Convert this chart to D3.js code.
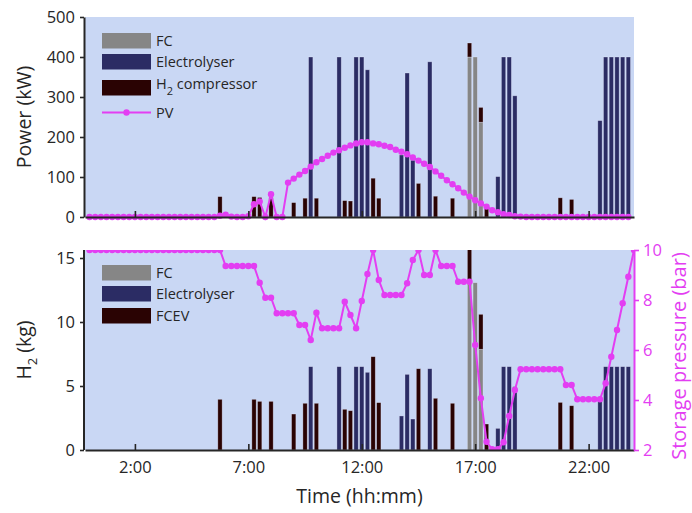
<!DOCTYPE html>
<html>
<head>
<meta charset="utf-8">
<script src="https://cdn.jsdelivr.net/npm/d3@7"></script>
<style>
  body { margin: 0; background: #ffffff; }
  svg { display: block; font-family: "Open Sans", "DejaVu Sans", sans-serif; }
</style>
</head>
<body>
<svg id="chart" width="692" height="513"></svg>
<script>
// ---- Data: 15-minute resolution over one day ----

// PV output (kW), 0:00 .. 23:45
const pvPower = [
  0,0,0,0,0,0,0,0,0,0,0,0,0,0,0,0,0,0,0,0,0,0,0,   // 0:00 - 5:30
  3,6,1,0,0,2,32,39,0,57,0,0,                      // 5:45 - 8:30
  86,96,106,115,126,137,145,153,161,167,173,179,   // 8:45 - 11:30
  184,187,187,184,182,178,175,168,163,157,149,141, // 11:45 - 14:30
  133,125,114,103,92,82,72,61,51,42,34,26,         // 14:45 - 17:30
  17,12,7,5,2,1,                                   // 17:45 - 19:00
  0,0,0,0,0,0,0,0,0,0,0,0,0,0,0,0,0,0,0            // 19:15 - 23:45
];

// Hydrogen storage pressure (bar), 0:00 .. 24:00
const storagePressure = [
  10,10,10,10,10,10,10,10,10,10,10,10,10,10,10,10,10,10,10,10,10,10,10,10, // 0:00 - 5:45
  9.36,9.36,9.36,9.36,9.36,9.36,                   // 6:00 - 7:15
  8.69,8.09,8.09,7.47,7.47,7.47,7.47,7.0,7.0,6.4,   // 7:30 - 9:45
  7.49,6.87,6.87,6.87,6.87,7.93,7.4,6.87,7.96,9.04, // 10:00 - 12:15
  10,8.8,8.2,8.2,8.2,8.2,8.67,9.6,10,9.0,9.0,10,    // 12:30 - 15:15
  9.36,9.36,9.36,8.73,8.73,8.73,                   // 15:30 - 16:45
  6.2,4.07,2.33,2.03,2.03,2.31,3.36,4.4,5.23,      // 17:00 - 19:00
  5.23,5.23,5.23,5.23,5.23,5.23,5.23,              // 19:15 - 20:45
  4.6,4.6,4.03,4.03,4.03,4.03,4.03,                // 21:00 - 22:30
  4.67,5.73,6.8,7.87,8.93,10                       // 22:45 - 24:00
];

// Power bars (kW) per time slot
const fcPower = [["16:45",400],["17:00",400],["17:15",237]];
const electrolyserPower = [
  ["9:45",400],["11:00",400],["11:45",400],["12:00",400],["12:15",368],
  ["13:45",155],["14:00",360],["14:15",142],["15:00",388],
  ["18:00",101],["18:15",400],["18:30",400],["18:45",303],
  ["22:30",241],["22:45",400],["23:00",400],["23:15",400],["23:30",400],["23:45",400]
];
const compressorPower = [
  ["5:45",51],["7:15",51],["7:30",49],["8:00",49],["9:00",36],["9:30",47],["10:00",47],
  ["11:15",41],["11:30",40],["12:30",97],["12:45",47],["14:30",84],["15:15",52],
  ["16:00",47],["16:45",35],["17:15",37],["17:30",26],["20:45",48],["21:15",44]
];

// Hydrogen bars (kg) per time slot
const fcHydrogen = [["16:45",13.1],["17:00",13.07],["17:15",7.87]];
const electrolyserHydrogen = [
  ["9:45",6.51],["11:00",6.51],["11:45",6.51],["12:00",6.51],["12:15",6.07],
  ["13:45",2.66],["14:00",5.91],["14:15",2.42],["15:00",6.35],
  ["18:00",1.69],["18:15",6.51],["18:30",6.51],["18:45",4.95],
  ["22:30",3.92],["22:45",6.51],["23:00",6.51],["23:15",6.51],["23:30",6.51],["23:45",6.51]
];
const fcevHydrogen = [
  ["5:45",3.96],["7:15",3.96],["7:30",3.8],["8:00",3.8],["9:00",2.81],["9:30",3.65],["10:00",3.65],
  ["11:15",3.18],["11:30",3.07],["12:30",7.29],["12:45",3.7],["14:30",6.35],["15:15",4.04],
  ["16:00",3.65],["16:45",2.8],["17:15",2.73],["17:30",2.03],["20:45",3.72],["21:15",3.46]
];

// Axis ticks
const hourTicks = [2, 7, 12, 17, 22];
const powerTicks = [0, 100, 200, 300, 400, 500];
const massTicks = [0, 5, 10, 15];
const pressureTicks = [2, 4, 6, 8, 10];

// ---- Styles ----
const C = {
  bg: "#c9d7f4",
  fc: "#868686",
  elec: "#2b2c64",
  dark: "#2a0303",
  pink: "#e33ef2",
  axis: "#262626",
  edge: "rgba(235,238,255,0.45)"
};

const svg = d3.select("#chart");
const toHours = s => { const [h, m] = s.split(":").map(Number); return h + m / 60; };

// Shared time scale
const x = d3.scaleLinear().domain([-0.2, 24]).range([85, 634]);
const barW = 4.3;

const panelTop = { y0: 17, y1: 217 };
const panelBot = { y0: 250, y1: 450 };

const yPow = d3.scaleLinear().domain([0, 500]).range([panelTop.y1, panelTop.y0]);
const yMass = d3.scaleLinear().domain([0, 15.625]).range([panelBot.y1, panelBot.y0]);
const yPres = d3.scaleLinear().domain([2, 10]).range([panelBot.y1, panelBot.y0]);

// Plot backgrounds
[panelTop, panelBot].forEach(p => {
  svg.append("rect").attr("x", x.range()[0]).attr("y", p.y0)
    .attr("width", x.range()[1] - x.range()[0]).attr("height", p.y1 - p.y0).attr("fill", C.bg);
});

svg.append("clipPath").attr("id", "clipBot").append("rect")
  .attr("x", x.range()[0]).attr("y", panelBot.y0)
  .attr("width", x.range()[1] - x.range()[0]).attr("height", panelBot.y1 - panelBot.y0);

// Stack FC, electrolyser and the dark series per time slot
function stackRows(fc, el, dk) {
  const m = new Map();
  const add = (list, key) => list.forEach(([t, v]) => {
    const h = toHours(t);
    if (!m.has(h)) m.set(h, { t: h, fc: 0, elec: 0, dark: 0 });
    m.get(h)[key] = v;
  });
  add(fc, "fc"); add(el, "elec"); add(dk, "dark");
  const rows = Array.from(m.values()).sort((a, b) => a.t - b.t);
  return d3.stack().keys(["fc", "elec", "dark"])(rows);
}

function drawBars(g, layers, y) {
  layers.forEach(layer => {
    g.selectAll(null).data(layer.filter(d => d[1] > d[0])).enter().append("rect")
      .attr("x", d => x(d.data.t) - barW / 2)
      .attr("width", barW)
      .attr("y", d => y(d[1]))
      .attr("height", d => y(d[0]) - y(d[1]))
      .attr("fill", C[layer.key])
      .attr("stroke", C.edge)
      .attr("stroke-width", 0.7);
  });
}

// ---- Top panel: power ----
const gTop = svg.append("g");
drawBars(gTop, stackRows(fcPower, electrolyserPower, compressorPower), yPow);

const pvPts = pvPower.map((v, i) => [i / 4, v]);
gTop.append("path").datum(pvPts)
  .attr("fill", "none").attr("stroke", C.pink).attr("stroke-width", 2)
  .attr("d", d3.line().x(d => x(d[0])).y(d => yPow(d[1])));
gTop.selectAll(null).data(pvPts).enter().append("circle")
  .attr("cx", d => x(d[0])).attr("cy", d => yPow(d[1])).attr("r", 3.2).attr("fill", C.pink);

// ---- Bottom panel: hydrogen ----
const gBot = svg.append("g").attr("clip-path", "url(#clipBot)");
drawBars(gBot, stackRows(fcHydrogen, electrolyserHydrogen, fcevHydrogen), yMass);

const presPts = storagePressure.map((v, i) => [i / 4, v]);
gBot.append("path").datum(presPts)
  .attr("fill", "none").attr("stroke", C.pink).attr("stroke-width", 2)
  .attr("d", d3.line().x(d => x(d[0])).y(d => yPres(d[1])));
gBot.selectAll(null).data(presPts).enter().append("circle")
  .attr("cx", d => x(d[0])).attr("cy", d => yPres(d[1])).attr("r", 3.2).attr("fill", C.pink);

// ---- Axes ----
function styleAxis(g, color, size) {
  g.selectAll(".domain").attr("stroke", color).attr("stroke-width", 2);
  g.selectAll(".tick line").attr("stroke", color).attr("stroke-width", 1.6);
  g.selectAll("text").attr("fill", color).attr("font-size", size)
    .attr("font-family", "'Open Sans', sans-serif");
}

const axTopX = svg.append("g").attr("transform", `translate(0,${panelTop.y1})`)
  .call(d3.axisBottom(x).tickValues(hourTicks).tickSizeInner(-6).tickSizeOuter(0).tickFormat(""));
styleAxis(axTopX, C.axis, 16);

const axBotX = svg.append("g").attr("transform", `translate(0,${panelBot.y1})`)
  .call(d3.axisBottom(x).tickValues(hourTicks).tickSizeInner(-6).tickSizeOuter(0)
    .tickPadding(11).tickFormat(h => `${h}:00`));
styleAxis(axBotX, C.axis, 16.5);

const axPow = svg.append("g").attr("transform", `translate(${x.range()[0] - 1},0)`)
  .call(d3.axisLeft(yPow).tickValues(powerTicks).tickSizeInner(4).tickSizeOuter(0).tickPadding(5));
styleAxis(axPow, C.axis, 16.5);

const axMass = svg.append("g").attr("transform", `translate(${x.range()[0] - 1},0)`)
  .call(d3.axisLeft(yMass).tickValues(massTicks).tickSizeInner(4).tickSizeOuter(0).tickPadding(5));
styleAxis(axMass, C.axis, 16.5);
axMass.select(".domain").attr("d", `M0,${panelBot.y0}V${panelBot.y1}`);

const axPres = svg.append("g").attr("transform", `translate(${x.range()[1]},0)`)
  .call(d3.axisRight(yPres).tickValues(pressureTicks).tickSizeInner(5).tickSizeOuter(0).tickPadding(4));
styleAxis(axPres, C.pink, 16.5);

// ---- Axis titles ----
svg.append("text").attr("transform", `translate(31,${(panelTop.y0 + panelTop.y1) / 2}) rotate(-90)`)
  .attr("text-anchor", "middle").attr("font-size", 19.5).attr("fill", C.axis)
  .text("Power (kW)");

const h2Title = svg.append("text").attr("transform", `translate(31,${(panelBot.y0 + panelBot.y1) / 2}) rotate(-90)`)
  .attr("text-anchor", "middle").attr("font-size", 19.5).attr("fill", C.axis);
h2Title.append("tspan").text("H");
h2Title.append("tspan").attr("font-size", 13).attr("dy", 6).text("2");
h2Title.append("tspan").attr("dy", -6).text(" (kg)");

svg.append("text").attr("transform", `translate(686,${(panelBot.y0 + panelBot.y1) / 2 + 6}) rotate(-90)`)
  .attr("text-anchor", "middle").attr("font-size", 20).attr("fill", C.pink)
  .text("Storage pressure (bar)");

svg.append("text").attr("x", (x.range()[0] + x.range()[1]) / 2).attr("y", 503)
  .attr("text-anchor", "middle").attr("font-size", 19.5).attr("fill", C.axis)
  .text("Time (hh:mm)");

// ---- Legends ----
function legendSwatch(yTop, color) {
  svg.append("rect").attr("x", 102).attr("y", yTop).attr("width", 49).attr("height", 15.5)
    .attr("fill", color);
}
function legendText(yBase) {
  return svg.append("text").attr("x", 156).attr("y", yBase)
    .attr("font-size", 14.5).attr("fill", C.axis);
}

legendSwatch(33, C.fc);   legendText(46).text("FC");
legendSwatch(54, C.elec); legendText(67).text("Electrolyser");
legendSwatch(80, C.dark);
const compLabel = legendText(89);
compLabel.append("tspan").text("H");
compLabel.append("tspan").attr("font-size", 11).attr("dy", 6).text("2");
compLabel.append("tspan").attr("dy", -6).text(" compressor");
svg.append("line").attr("x1", 102).attr("x2", 151).attr("y1", 112.5).attr("y2", 112.5)
  .attr("stroke", C.pink).attr("stroke-width", 2);
svg.append("circle").attr("cx", 126.5).attr("cy", 112.5).attr("r", 3.2).attr("fill", C.pink);
legendText(118).text("PV");

legendSwatch(265, C.fc);   legendText(278).text("FC");
legendSwatch(286, C.elec); legendText(299).text("Electrolyser");
legendSwatch(308, C.dark); legendText(321).text("FCEV");
</script>
</body>
</html>
